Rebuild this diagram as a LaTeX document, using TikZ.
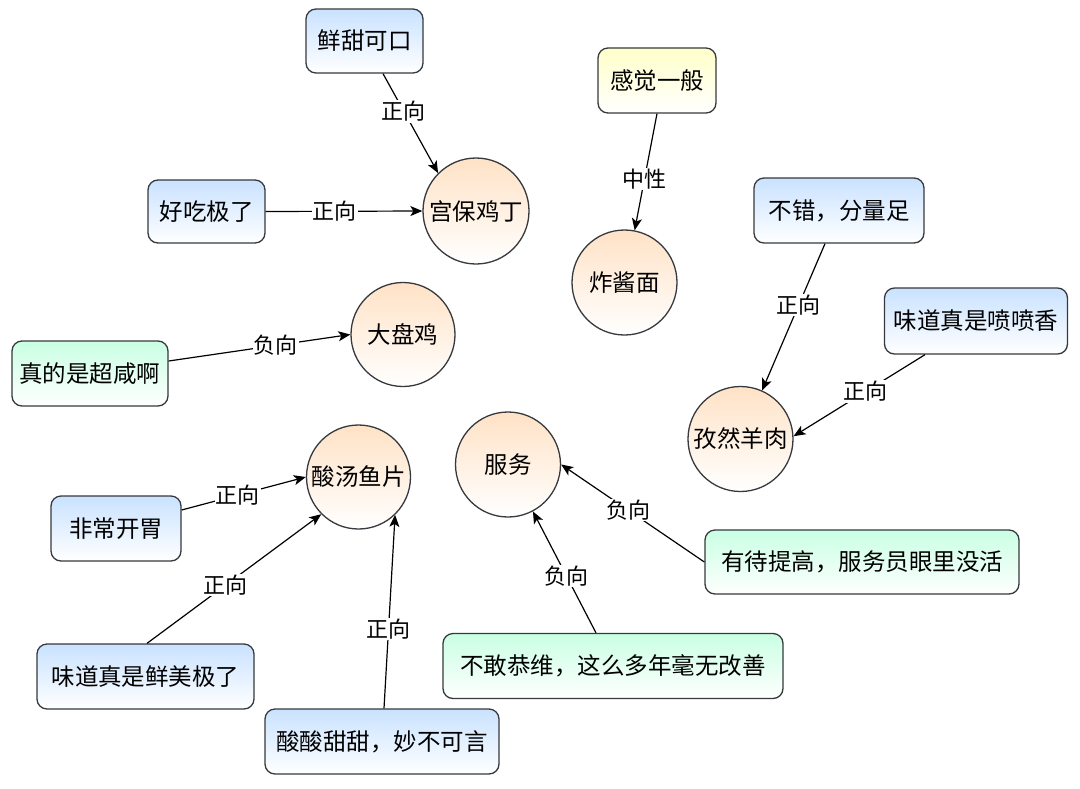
\documentclass[tikz,border=0pt]{standalone}
\usepackage{fontspec}
\setmainfont{Noto Sans CJK SC}
\usetikzlibrary{arrows.meta}
\definecolor{bdr}{HTML}{36393D}
\definecolor{blueT}{HTML}{C9E2FF}
\definecolor{greenT}{HTML}{C9FFE3}
\definecolor{yellowT}{HTML}{FFFFC9}
\definecolor{peachT}{HTML}{FFE2C6}
\tikzset{
  box/.style={draw=bdr, line width=1.3pt, rounded corners=10pt, inner sep=0pt,
    font=\fontsize{23.5}{27}\selectfont, bottom color=white},
  bluebox/.style={box, top color=blueT},
  greenbox/.style={box, top color=greenT},
  yellowbox/.style={box, top color=yellowT},
  dish/.style={draw=bdr, line width=1.3pt, circle, inner sep=0pt, minimum size=105pt,
    top color=peachT, bottom color=white, font=\fontsize{23.5}{27}\selectfont},
  conn/.style={draw=black, line width=1.2pt, -{Stealth[length=12pt,width=10pt,inset=3pt]}},
  lbl/.style={fill=white, inner sep=1pt, font=\fontsize{22}{25}\selectfont}
}
\begin{document}
\begin{tikzpicture}[x=1pt,y=-1pt]
\useasboundingbox (0,0) rectangle (1080,788);
\fill[white] (0,0) rectangle (1080,788);
% boxes
\node[bluebox, minimum width=117pt, minimum height=64pt] (xt) at (364.5,41) {鲜甜可口};
\node[bluebox, minimum width=117pt, minimum height=63pt] (hc) at (206.5,211.5) {好吃极了};
\node[yellowbox, minimum width=118pt, minimum height=65pt] (gj) at (657,80.5) {感觉一般};
\node[bluebox, minimum width=170pt, minimum height=65pt] (bc) at (839,210.5) {不错，分量足};
\node[bluebox, minimum width=183pt, minimum height=66pt] (wd) at (976,321) {味道真是喷喷香};
\node[greenbox, minimum width=156pt, minimum height=65pt] (zd) at (90,373.5) {真的是超咸啊};
\node[bluebox, minimum width=130pt, minimum height=65pt] (fc) at (116,528.5) {非常开胃};
\node[bluebox, minimum width=217pt, minimum height=65pt] (wx) at (145.5,676.5) {味道真是鲜美极了};
\node[bluebox, minimum width=234pt, minimum height=65pt] (ss) at (382,741.5) {酸酸甜甜，妙不可言};
\node[greenbox, minimum width=314pt, minimum height=64pt] (yd) at (862,562) {有待提高，服务员眼里没活};
\node[greenbox, minimum width=340pt, minimum height=65pt] (bg) at (613,666) {不敢恭维，这么多年毫无改善};
% circles
\node[dish, minimum size=106pt] (gb) at (476,211) {宫保鸡丁};
\node[dish] (zj) at (624.5,282.5) {炸酱面};
\node[dish] (zr) at (740.5,439) {孜然羊肉};
\node[dish, minimum size=104pt] (dp) at (403,334.5) {大盘鸡};
\node[dish, minimum size=104pt] (st) at (358.5,477) {酸汤鱼片};
\node[dish] (fw) at (508,464.5) {服务};
% connectors
\draw[conn] ([xshift=18.5pt]xt.south) -- node[lbl, pos=0.38] {正向} (gb.135);
\draw[conn] (hc.east) -- node[lbl, pos=0.44] {正向} (gb.west);
\draw[conn] (gj.south) -- node[lbl, pos=0.56] {中性} (zj.79);
\draw[conn] ([xshift=-14pt]bc.south) -- node[lbl, pos=0.42] {正向} (zr.66);
\draw[conn] ([xshift=-51pt]wd.south) -- node[lbl, pos=0.45] {正向} (zr.3);
\draw[conn] ([yshift=12.5pt]zd.east) -- node[lbl, pos=0.59] {负向} (dp.west);
\draw[conn] ([yshift=18.5pt]fc.east) -- node[lbl, pos=0.45] {正向} (st.west);
\draw[conn] ([xshift=1.5pt]wx.north) -- node[lbl, pos=0.45] {正向} (st.225);
\draw[conn] ([xshift=2pt]ss.north) -- node[lbl, pos=0.41] {正向} (st.-46);
\draw[conn] (yd.west) -- node[lbl, pos=0.53] {负向} (fw.east);
\draw[conn] ([xshift=-17pt]bg.north) -- node[lbl, pos=0.47] {负向} (fw.-62);
\end{tikzpicture}
\end{document}
